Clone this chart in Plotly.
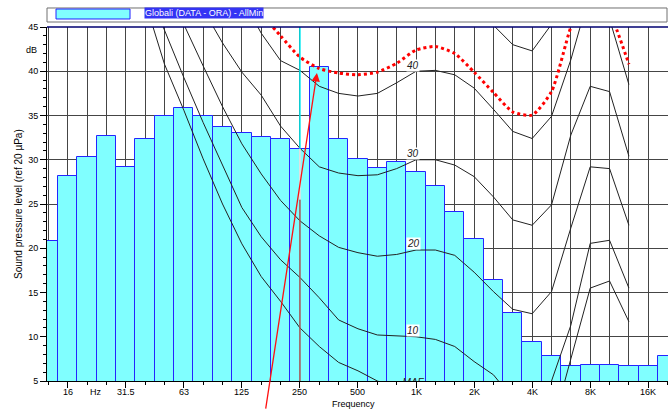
import plotly.graph_objects as go

# 1/3-octave band centres (index 0 = 12.5 Hz ... 32 = 20 kHz)
bands = ["12.5", "16", "20", "25", "31.5", "40", "50", "63", "80", "100", "125", "160",
         "200", "250", "315", "400", "500", "630", "800", "1K", "1.25K", "1.6K", "2K",
         "2.5K", "3.15K", "4K", "5K", "6.3K", "8K", "10K", "12.5K", "16K", "20K"]
band_idx = list(range(len(bands)))

tick_idx = [1, 4, 7, 10, 13, 16, 19, 22, 25, 28, 31]
tick_text = ["16", "31.5", "63", "125", "250", "500", "1K", "2K", "4K", "8K", "16K"]

# Global spectrum (dB)
spectrum = [20.8, 28.2, 30.3, 32.7, 29.2, 32.4, 34.9, 35.8, 34.9, 33.7, 33.0, 32.6,
            32.4, 31.25, 40.45, 32.4, 30.05, 29.1, 29.7, 28.6, 27.0, 24.1, 21.0,
            16.4, 12.65, 9.45, 7.85, 6.7, 6.85, 6.85, 6.7, 6.7, 7.85]

N = None
maf = [N, N, N, N, N, 47.9, 40.8, 35.6, 30.1, 25.0, 20.5, 16.8, 14.0, 11.0, 8.9, 7.1,
       6.15, 5.0, 4.3, 3.8, 3.5, 2.5, 1.0, -1.0, -3.0, -3.5, -0.5, 7.5, 15.5, 16.3, 11.7, N, N]
phon10 = [N, N, N, N, N, 50.0, 44.6, 39.3, 34.2, 29.3, 24.6, 21.3, 18.7, 16.7, 14.4, 11.9,
          10.9, 10.2, 10.1, 10.0, 9.7, 8.9, 7.2, 5.7, 3.0, 2.5, 5.0, 11.3, 20.55, 20.9, 15.5, N, N]
phon20 = [N, N, N, N, N, N, 51.0, 45.3, 40.6, 36.0, 31.8, 28.4, 25.4, 23.1, 21.4, 20.1,
          19.5, 19.1, 19.3, 19.8, 19.8, 19.2, 17.3, 15.1, 13.1, 12.6, 15.1, 22.3, 29.2, 29.0, 22.6, N, N]
phon30 = [N, N, N, N, N, N, N, 54.0, 47.0, 43.2, 39.9, 37.3, 33.8, 31.3, 29.2, 28.5,
          28.2, 28.3, 29.0, 30.0, 30.0, 29.4, 28.1, 25.8, 23.2, 22.6, 24.9, 32.8, 38.3, 37.7, 30.4, N, N]
phon40 = [N, N, N, N, N, N, N, N, N, 54.0, 48.3, 44.3, 41.2, 40.1, 38.3, 37.5,
          37.2, 37.5, 38.7, 40.0, 40.1, 39.6, 38.1, 35.7, 33.2, 32.4, 34.9, 41.3, 49.0, 45.9, 38.5, N, N]
phon50 = [N] * 21 + [49.5, 47.5, 45.2, 43.0, 42.3, 45.3, 52.0] + [N] * 5
limit_red = [N] * 11 + [46.5, 44.0, 41.6, 40.3, 39.8, 39.6, 39.9, 40.9, 42.4, 42.8, 42.0,
                        39.9, 37.6, 35.4, 35.05, 37.7, 45.0, 50.0, 46.7, 40.8] + [N, N]

contours = [("MAF", maf), ("10", phon10), ("20", phon20), ("30", phon30),
            ("40", phon40), ("50", phon50)]

legend_text = "Globali (DATA - ORA) - AllMin"
cursor_band = 13        # 250 Hz cursor
arrow_from = (11.22, 1.7)
arrow_to = (13.88, 39.8)

FONT = "Liberation Sans, Arial, sans-serif"
GRID = "#454545"

fig = go.Figure()

fig.add_trace(go.Bar(
    x=band_idx, y=spectrum, width=1.0,
    marker=dict(color="#80ffff", line=dict(color="#2424ff", width=1)),
    showlegend=False, hoverinfo="skip"))

for name, vals in contours:
    fig.add_trace(go.Scatter(
        x=band_idx, y=vals, mode="lines", connectgaps=False,
        line=dict(color="#222222", width=1), showlegend=False, hoverinfo="skip"))

fig.add_trace(go.Scatter(
    x=band_idx, y=limit_red, mode="lines",
    line=dict(color="#ff0000", width=3, dash="3px,3px", shape="spline", smoothing=0.6),
    showlegend=False, hoverinfo="skip"))

# MAF label (clipped by plot area like in the original)
fig.add_trace(go.Scatter(
    x=[18.85], y=[4.75], mode="text", text=["<i>MAF</i>"],
    textfont=dict(family=FONT, size=10, color="#222"),
    cliponaxis=True, showlegend=False, hoverinfo="skip"))

# contour labels at 1 kHz
for name, vals in contours[1:5]:
    fig.add_annotation(x=18.85, y=vals[19] + 0.7, xref="x", yref="y",
                       text="<i>%s</i>" % name, showarrow=False,
                       font=dict(family=FONT, size=10, color="#222"),
                       bgcolor="white", borderpad=0)

# x tick labels (placed close to the axis like the original)
for tv, tt in zip(tick_idx, tick_text):
    fig.add_annotation(x=tv, y=-0.031, xref="x", yref="paper", text=tt,
                       showarrow=False, xanchor="center", yanchor="middle",
                       font=dict(family=FONT, size=9, color="black"))

# cursor line at 250 Hz
fig.add_shape(type="line", x0=cursor_band, x1=cursor_band, y0=spectrum[cursor_band], y1=45,
              xref="x", yref="y", line=dict(color="#00e8f0", width=1.5), layer="above")
fig.add_shape(type="line", x0=cursor_band, x1=cursor_band, y0=5, y1=25.5,
              xref="x", yref="y", line=dict(color="#a85050", width=1.5), layer="above")
fig.add_shape(type="line", x0=cursor_band, x1=cursor_band, y0=25.5, y1=spectrum[cursor_band],
              xref="x", yref="y", line=dict(color="#f4dada", width=1.5), layer="above")

# red arrow
fig.add_annotation(x=arrow_to[0], y=arrow_to[1], ax=arrow_from[0], ay=arrow_from[1],
                   xref="x", yref="y", axref="x", ayref="y", text="",
                   showarrow=True, arrowhead=2, arrowsize=1.3, arrowwidth=1.3,
                   arrowcolor="#ff1010")

# top border (navy)
fig.add_shape(type="line", x0=0, x1=1, y0=1, y1=1, xref="paper", yref="paper",
              line=dict(color="#000070", width=1.5), layer="above")

# legend box
fig.add_shape(type="rect", x0=0.0, x1=0.9984, y0=1.0141, y1=1.0537,
              xref="paper", yref="paper", line=dict(color="#707070", width=1),
              fillcolor="white")
fig.add_shape(type="rect", x0=0.0145, x1=0.1337, y0=1.0226, y1=1.0508,
              xref="paper", yref="paper", line=dict(color="#2424ff", width=1),
              fillcolor="#80ffff")
fig.add_annotation(x=0.2525, y=1.0395, xref="paper", yref="paper", text=legend_text,
                   showarrow=False, font=dict(family=FONT, size=9, color="white"),
                   bgcolor="#3434f4", borderpad=0, xanchor="center", yanchor="middle")

# axis unit labels and titles
fig.add_annotation(x=-0.0121, y=42.4, xref="paper", yref="y", text="dB",
                   showarrow=False, xanchor="right", yanchor="middle",
                   font=dict(family=FONT, size=9, color="black"))
fig.add_annotation(x=2.47, y=-0.031, xref="x", yref="paper", text="Hz",
                   showarrow=False, xanchor="center", yanchor="middle",
                   font=dict(family=FONT, size=9, color="black"))
fig.add_annotation(x=-0.0467, y=0.5, xref="paper", yref="paper",
                   text="Sound pressure level (ref 20 µPa)", textangle=-90,
                   showarrow=False, xanchor="center", yanchor="middle",
                   font=dict(family=FONT, size=10, color="black"))
fig.add_annotation(x=0.493, y=-0.0636, xref="paper", yref="paper", text="Frequency",
                   showarrow=False, xanchor="center", yanchor="middle",
                   font=dict(family=FONT, size=9, color="black"))

fig.update_layout(
    width=672, height=410,
    margin=dict(l=47, r=4, t=27, b=29),
    paper_bgcolor="white", plot_bgcolor="white",
    bargap=0, showlegend=False,
    font=dict(family=FONT, size=9, color="black"),
    xaxis=dict(range=[-0.07, 32.02], tickmode="array", tickvals=tick_idx,
               showticklabels=False,
               ticks="outside", ticklen=6, tickcolor="black", showgrid=True,
               gridcolor=GRID, gridwidth=1, zeroline=False, showline=True,
               linecolor="black", linewidth=1,
               minor=dict(dtick=1, tick0=0, ticks="outside", ticklen=3, tickcolor="black",
                          showgrid=True, gridcolor=GRID, gridwidth=1)),
    yaxis=dict(range=[5, 45], tickmode="array", tickvals=list(range(5, 50, 5)),
               ticks="outside", ticklen=6, tickcolor="black", showgrid=True,
               gridcolor=GRID, gridwidth=1, zeroline=False, showline=True,
               linecolor="black", linewidth=1,
               minor=dict(dtick=1, tick0=0, ticks="outside", ticklen=3, tickcolor="black",
                          showgrid=False),
               tickfont=dict(family=FONT, size=9, color="black")),
)

fig.write_html("out.html", config={"displayModeBar": False},
               post_script="document.body.style.margin='0';")
